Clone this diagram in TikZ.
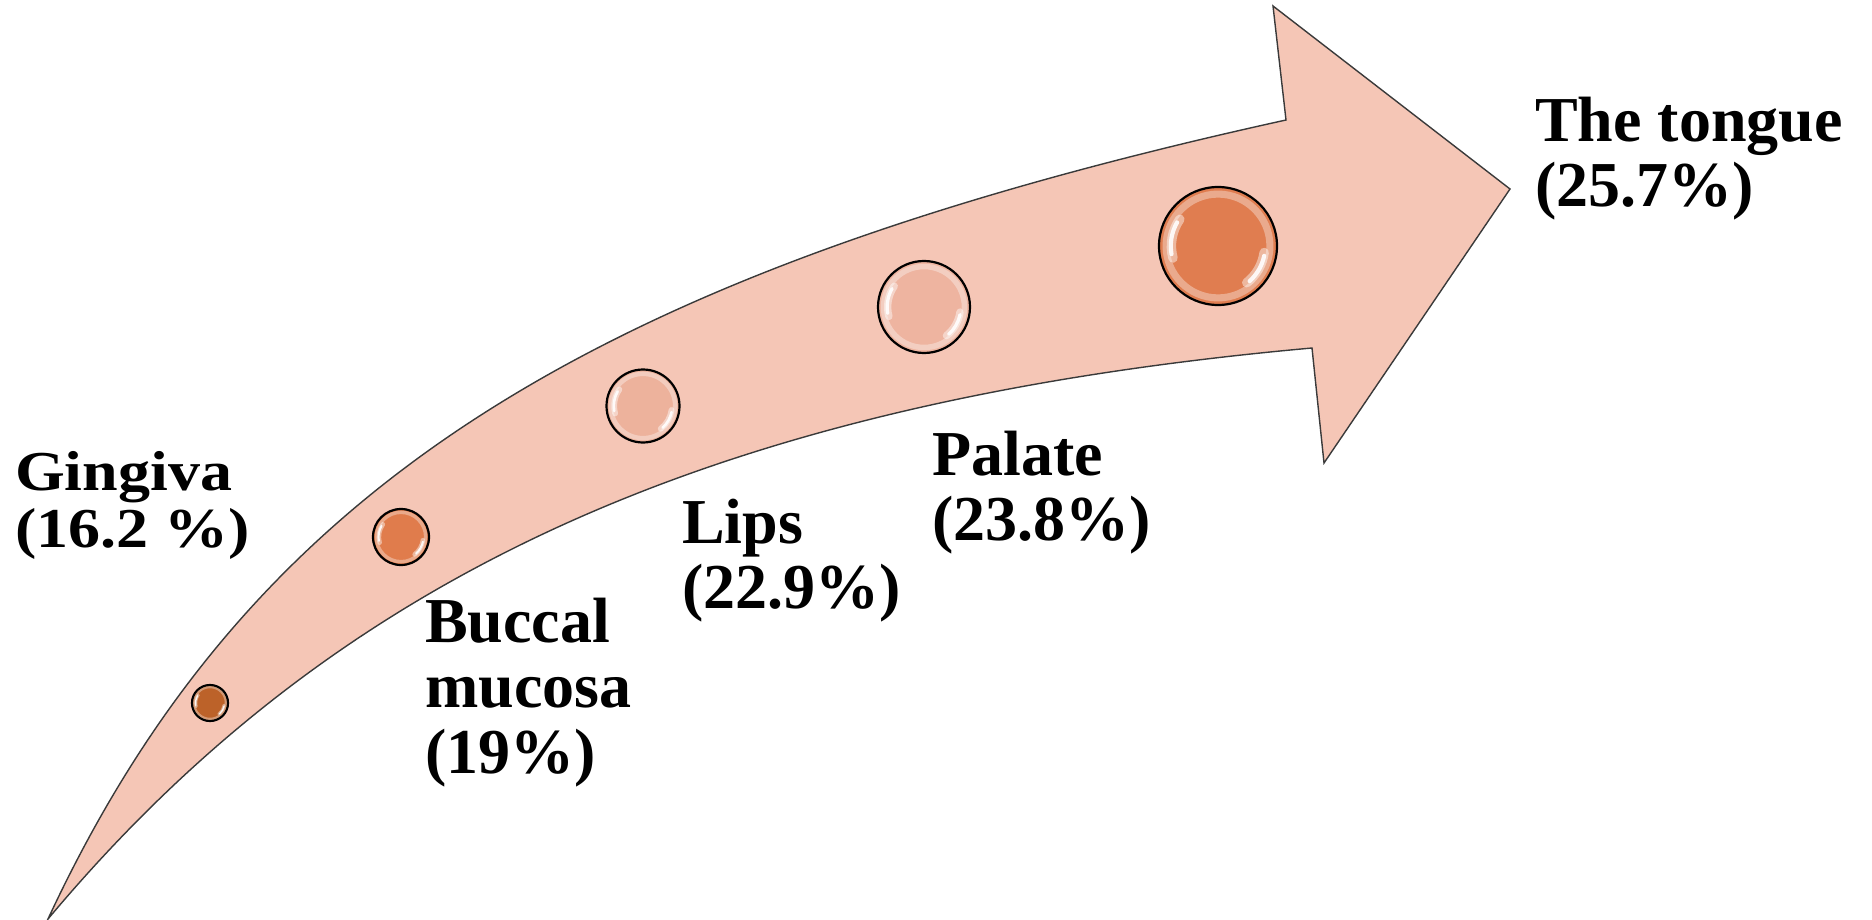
\documentclass[tikz,border=0pt]{standalone}
\usepackage{fontspec}
\usepackage{graphicx}
\setmainfont{Liberation Serif}
\usetikzlibrary{calc}
\definecolor{arrowfill}{HTML}{F5C6B6}
\definecolor{arrowline}{HTML}{3A3A3A}
\definecolor{bA}{HTML}{BC6229}
\definecolor{bB}{HTML}{E07C4C}
\definecolor{bC}{HTML}{EDB29C}
\definecolor{bD}{HTML}{EEB4A0}
\definecolor{bE}{HTML}{E07D50}
\newcommand\glint[2]{%
  \draw[white, opacity=0.35, line width=#2*0.12pt] (#1.center) circle[radius=#2*0.88pt];
  \draw[white, opacity=0.45, line width=#2*0.16pt, line cap=round]
    ([shift={(145:#2*0.79pt)}]#1.center) arc[start angle=145, end angle=195, radius=#2*0.79pt];
  \draw[white, opacity=0.45, line width=#2*0.16pt, line cap=round]
    ([shift={(-8:#2*0.79pt)}]#1.center) arc[start angle=-8, end angle=-52, radius=#2*0.79pt];
  \draw[white, opacity=0.9, line width=#2*0.07pt, line cap=round]
    ([shift={(150:#2*0.80pt)}]#1.center) arc[start angle=150, end angle=190, radius=#2*0.80pt];
  \draw[white, opacity=0.9, line width=#2*0.07pt, line cap=round]
    ([shift={(-12:#2*0.80pt)}]#1.center) arc[start angle=-12, end angle=-48, radius=#2*0.80pt];
}
\begin{document}
\begin{tikzpicture}[x=1pt,y=-1pt,
  arrowstyle/.style={fill=arrowfill, draw=arrowline, line width=1.4pt, line join=miter},
  ball/.style={circle, draw=black, line width=2.2pt, inner sep=0pt, minimum size=#1},
  lbl/.style={anchor=north west, inner sep=0pt, font=\fontsize{64}{65.5}\selectfont\bfseries}]
\useasboundingbox (0,0) rectangle (1872,920);
% the curved arrow
\filldraw[arrowstyle]
  (48,919) .. controls (248,489) and (586,274) .. (1286,120)
  -- (1273,6) -- (1510,189) -- (1324,463) -- (1312,348)
  .. controls (712,402) and (336,575) .. (48,919)
  -- cycle;
% balls
\node[ball=36pt, fill=bA] (c1) at (210,703) {};
\node[ball=56pt, fill=bB] (c2) at (401,537) {};
\node[ball=73pt, fill=bC] (c3) at (643,406) {};
\node[ball=92pt, fill=bD] (c4) at (924,307) {};
\node[ball=118pt, fill=bE] (c5) at (1218,246) {};
\glint{c1}{18}
\glint{c2}{28}
\glint{c3}{36.5}
\glint{c4}{46}
\glint{c5}{59}
% labels
\node[lbl] (gingiva) at (15,449.7) {\scalebox{1}[0.88]{\begin{tabular}{@{}l@{}}Gingiva\\(16.2 \%)\end{tabular}}};
\node[lbl] (buccal) at (425,596) {\begin{tabular}{@{}l@{}}Buccal\\mucosa\\(19\%)\end{tabular}};
\node[lbl] (lips) at (682,497) {\begin{tabular}{@{}l@{}}Lips\\(22.9\%)\end{tabular}};
\node[lbl] (palate) at (932,429) {\begin{tabular}{@{}l@{}}Palate\\(23.8\%)\end{tabular}};
\node[lbl] (tongue) at (1535,95) {\begin{tabular}{@{}l@{}}The tongue\\(25.7\%)\end{tabular}};
\end{tikzpicture}
\end{document}
